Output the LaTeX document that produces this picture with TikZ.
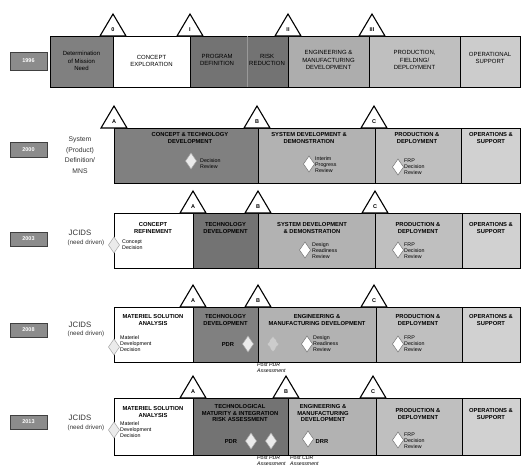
\documentclass[tikz,border=0pt]{standalone}
\usepackage{fontspec}
\setmainfont{Liberation Sans}
\begin{document}
\begin{tikzpicture}[x=1pt,y=-1pt,
  cellbox/.style={draw=black, line width=0.6pt},
  hdr/.style={font=\fontsize{5.8}{6.8}\selectfont\bfseries, align=center, inner sep=0},
  hdrone/.style={font=\fontsize{6}{7.6}\selectfont, align=center, inner sep=0},
  sm/.style={font=\fontsize{5.3}{6}\selectfont, align=left, inner sep=0, anchor=west},
  post/.style={font=\fontsize{5.2}{5.8}\selectfont\itshape, align=left, inner sep=0, anchor=north west},
  side/.style={font=\fontsize{6.8}{10.6}\selectfont, align=center, inner sep=0, text=black!80},
  jc/.style={font=\fontsize{7.8}{8}\selectfont, inner sep=0, text=black!80},
  nd/.style={font=\fontsize{6.2}{7}\selectfont, inner sep=0, text=black!80},
  yrbox/.style={draw=black!75, line width=1pt, fill=black!45, minimum width=37pt, inner sep=0, text=white, font=\fontsize{5.5}{6}\selectfont\bfseries},
  tri/.style={draw=black, line width=1.1pt, fill=white, line join=miter},
  trilbl/.style={font=\fontsize{5.5}{6}\selectfont\bfseries, inner sep=0},
  dm/.style={draw=black!55, line width=0.5pt, fill=white},
  dmlight/.style={draw=black!35, line width=0.5pt, fill=black!8},
  dmfaint/.style={draw=black!30, line width=0.5pt, dashed, fill=black!20}
]
\newcommand\mstone[4]{%
  \draw[tri] ({#2-13},#3) -- (#2,{#3-22}) -- ({#2+13},#3) -- cycle;
  \node[trilbl] (#1) at (#2,{#3-6}) {#4};}
\newcommand\dmd[4]{%
  \draw[#4] (#2,{#3-8}) -- ({#2+5.5},#3) -- (#2,{#3+8}) -- ({#2-5.5},#3) -- cycle;
  \coordinate (#1) at (#2,#3);}

\useasboundingbox (0,0) rectangle (524,471);
\fill[white] (0,0) rectangle (524,471);

% ---------------- Row 1 ----------------
\node[yrbox, minimum height=18pt] (y1) at (28.5,61) {1996};
\draw[cellbox, fill=black!50] (50,36) rectangle (113,87);
\draw[cellbox, fill=white] (113,36) rectangle (190,87);
\draw[cellbox, fill=black!55] (190,36) rectangle (288,87);
\draw[black!40, line width=0.4pt] (247,36) -- (247,87);
\draw[cellbox, fill=black!32] (288,36) rectangle (369,87);
\draw[cellbox, fill=black!25] (369,36) rectangle (460,87);
\draw[cellbox, fill=black!20] (460,36) rectangle (520,87);
\node[hdrone] (r1a) at (81.5,61) {Determination\\of Mission\\Need};
\node[hdrone] (r1b) at (151.5,61) {CONCEPT\\EXPLORATION};
\node[hdrone] (r1c) at (217,60) {PROGRAM\\DEFINITION};
\node[hdrone] (r1d) at (267,60) {RISK\\REDUCTION};
\node[hdrone] (r1e) at (328.5,60) {ENGINEERING \&\\MANUFACTURING\\DEVELOPMENT};
\node[hdrone] (r1f) at (414.5,60) {PRODUCTION,\\FIELDING/\\DEPLOYMENT};
\node[hdrone] (r1g) at (490,58) {OPERATIONAL\\SUPPORT};
\mstone{m10}{113}{36}{0}
\mstone{m11}{190}{36}{I}
\mstone{m12}{288}{36}{II}
\mstone{m13}{372}{36}{III}

% ---------------- Row 2 ----------------
\node[yrbox, minimum height=15pt] (y2) at (28.5,150) {2000};
\node[side] (s2) at (80,155) {System\\(Product)\\Definition/\\MNS};
\draw[cellbox, fill=black!50] (114,128) rectangle (258,183);
\draw[cellbox, fill=black!30] (258,128) rectangle (375,183);
\draw[cellbox, fill=black!25] (375,128) rectangle (461,183);
\draw[cellbox, fill=black!18] (461,128) rectangle (520,183);
\node[hdr] (r2a) at (190,138) {CONCEPT \& TECHNOLOGY\\DEVELOPMENT};
\node[hdr] (r2b) at (309,138) {SYSTEM DEVELOPMENT \&\\DEMONSTRATION};
\node[hdr] (r2c) at (417,138) {PRODUCTION \&\\DEPLOYMENT};
\node[hdr] (r2d) at (491,138) {OPERATIONS \&\\SUPPORT};
\dmd{d21}{191}{161}{dmlight}
\node[sm] (t21) at (200,164) {Decision\\Review};
\dmd{d22}{309}{164}{dm}
\node[sm] (t22) at (315,165) {Interim\\Progress\\Review};
\dmd{d23}{398}{167}{dm}
\node[sm] (t23) at (404,167) {FRP\\Decision\\Review};
\mstone{m2a}{114}{128}{A}
\mstone{m2b}{257}{128}{B}
\mstone{m2c}{374}{128}{C}

% ---------------- Row 3 ----------------
\node[yrbox, minimum height=14pt] (y3) at (28.5,239) {2003};
\node[jc] (j3) at (80,233) {JCIDS};
\node[nd] (n3) at (86,243) {(need driven)};
\draw[cellbox, fill=white] (114,213) rectangle (193,268);
\draw[cellbox, fill=black!55] (193,213) rectangle (258,268);
\draw[cellbox, fill=black!30] (258,213) rectangle (375,268);
\draw[cellbox, fill=black!25] (375,213) rectangle (462,268);
\draw[cellbox, fill=black!18] (462,213) rectangle (520,268);
\node[hdr] (r3a) at (153,228) {CONCEPT\\REFINEMENT};
\node[hdr] (r3b) at (225.5,228) {TECHNOLOGY\\DEVELOPMENT};
\node[hdr] (r3c) at (312,228) {SYSTEM DEVELOPMENT\\\& DEMONSTRATION};
\node[hdr] (r3d) at (418,228) {PRODUCTION \&\\DEPLOYMENT};
\node[hdr] (r3e) at (491,228) {OPERATIONS \&\\SUPPORT};
\dmd{d31}{114}{245}{dmlight}
\node[sm] (t31) at (122,245) {Concept\\Decision};
\dmd{d32}{305}{250}{dm}
\node[sm] (t32) at (312,251) {Design\\Readiness\\Review};
\dmd{d33}{398}{250}{dm}
\node[sm] (t33) at (404,251) {FRP\\Decision\\Review};
\mstone{m3a}{193}{213}{A}
\mstone{m3b}{258}{213}{B}
\mstone{m3c}{375}{213}{C}

% ---------------- Row 4 ----------------
\node[yrbox, minimum height=14pt] (y4) at (28.5,330) {2008};
\node[jc] (j4) at (80,325) {JCIDS};
\node[nd] (n4) at (86,334) {(need driven)};
\draw[cellbox, fill=white] (114,307) rectangle (193,362);
\draw[cellbox, fill=black!50] (193,307) rectangle (258,362);
\draw[cellbox, fill=black!30] (258,307) rectangle (376,362);
\draw[cellbox, fill=black!25] (376,307) rectangle (462,362);
\draw[cellbox, fill=black!18] (462,307) rectangle (520,362);
\node[hdr] (r4a) at (153,320) {MATERIEL SOLUTION\\ANALYSIS};
\node[hdr] (r4b) at (225.5,320) {TECHNOLOGY\\DEVELOPMENT};
\node[hdr] (r4c) at (317,320) {ENGINEERING \&\\MANUFACTURING DEVELOPMENT};
\node[hdr] (r4d) at (418,320) {PRODUCTION \&\\DEPLOYMENT};
\node[hdr] (r4e) at (491,320) {OPERATIONS \&\\SUPPORT};
\dmd{d41}{114}{347}{dmlight}
\node[sm] (t41) at (120,344) {Materiel\\Development\\Decision};
\node[hdr] (p41) at (228,344) {PDR};
\dmd{d42}{248}{344}{dmlight}
\dmd{d43}{273}{344}{dmfaint}
\dmd{d44}{307}{344}{dm}
\node[sm] (t44) at (313,344) {Design\\Readiness\\Review};
\dmd{d45}{398}{344}{dm}
\node[sm] (t45) at (404,344) {FRP\\Decision\\Review};
\node[post] (pa4) at (257,363) {Post PDR\\Assessment};
\mstone{m4a}{193}{307}{A}
\mstone{m4b}{258}{307}{B}
\mstone{m4c}{374}{307}{C}

% ---------------- Row 5 ----------------
\node[yrbox, minimum height=14pt] (y5) at (28.5,422) {2013};
\node[jc] (j5) at (80,418) {JCIDS};
\node[nd] (n5) at (86,428) {(need driven)};
\draw[cellbox, fill=white] (114,398) rectangle (193,455);
\draw[cellbox, fill=black!55] (193,398) rectangle (288,455);
\draw[cellbox, fill=black!30] (288,398) rectangle (376,455);
\draw[cellbox, fill=black!25] (376,398) rectangle (462,455);
\draw[cellbox, fill=black!18] (462,398) rectangle (520,455);
\node[hdr] (r5a) at (153,412) {MATERIEL SOLUTION\\ANALYSIS};
\node[hdr] (r5b) at (240,413) {TECHNOLOGICAL\\MATURITY \& INTEGRATION\\RISK ASSESSMENT};
\node[hdr] (r5c) at (323,413) {ENGINEERING \&\\MANUFACTURING\\DEVELOPMENT};
\node[hdr] (r5d) at (418,414) {PRODUCTION \&\\DEPLOYMENT};
\node[hdr] (r5e) at (491,414) {OPERATIONS \&\\SUPPORT};
\dmd{d51}{114}{430}{dmlight}
\node[sm] (t51) at (120,430) {Materiel\\Development\\Decision};
\node[hdr] (p51) at (231,441) {PDR};
\dmd{d52}{251}{441}{dmlight}
\dmd{d53}{271}{441}{dmlight}
\dmd{d54}{308}{439}{dm}
\node[hdr] (t54) at (322,441) {DRR};
\dmd{d55}{398}{440}{dm}
\node[sm] (t55) at (404,441) {FRP\\Decision\\Review};
\node[post] (pa5) at (257,456) {Post PDR\\Assessment};
\node[post] (pc5) at (290,456) {Post CDR\\Assessment};
\mstone{m5a}{193}{398}{A}
\mstone{m5b}{286}{398}{B}
\mstone{m5c}{373}{398}{C}
\end{tikzpicture}
\end{document}
